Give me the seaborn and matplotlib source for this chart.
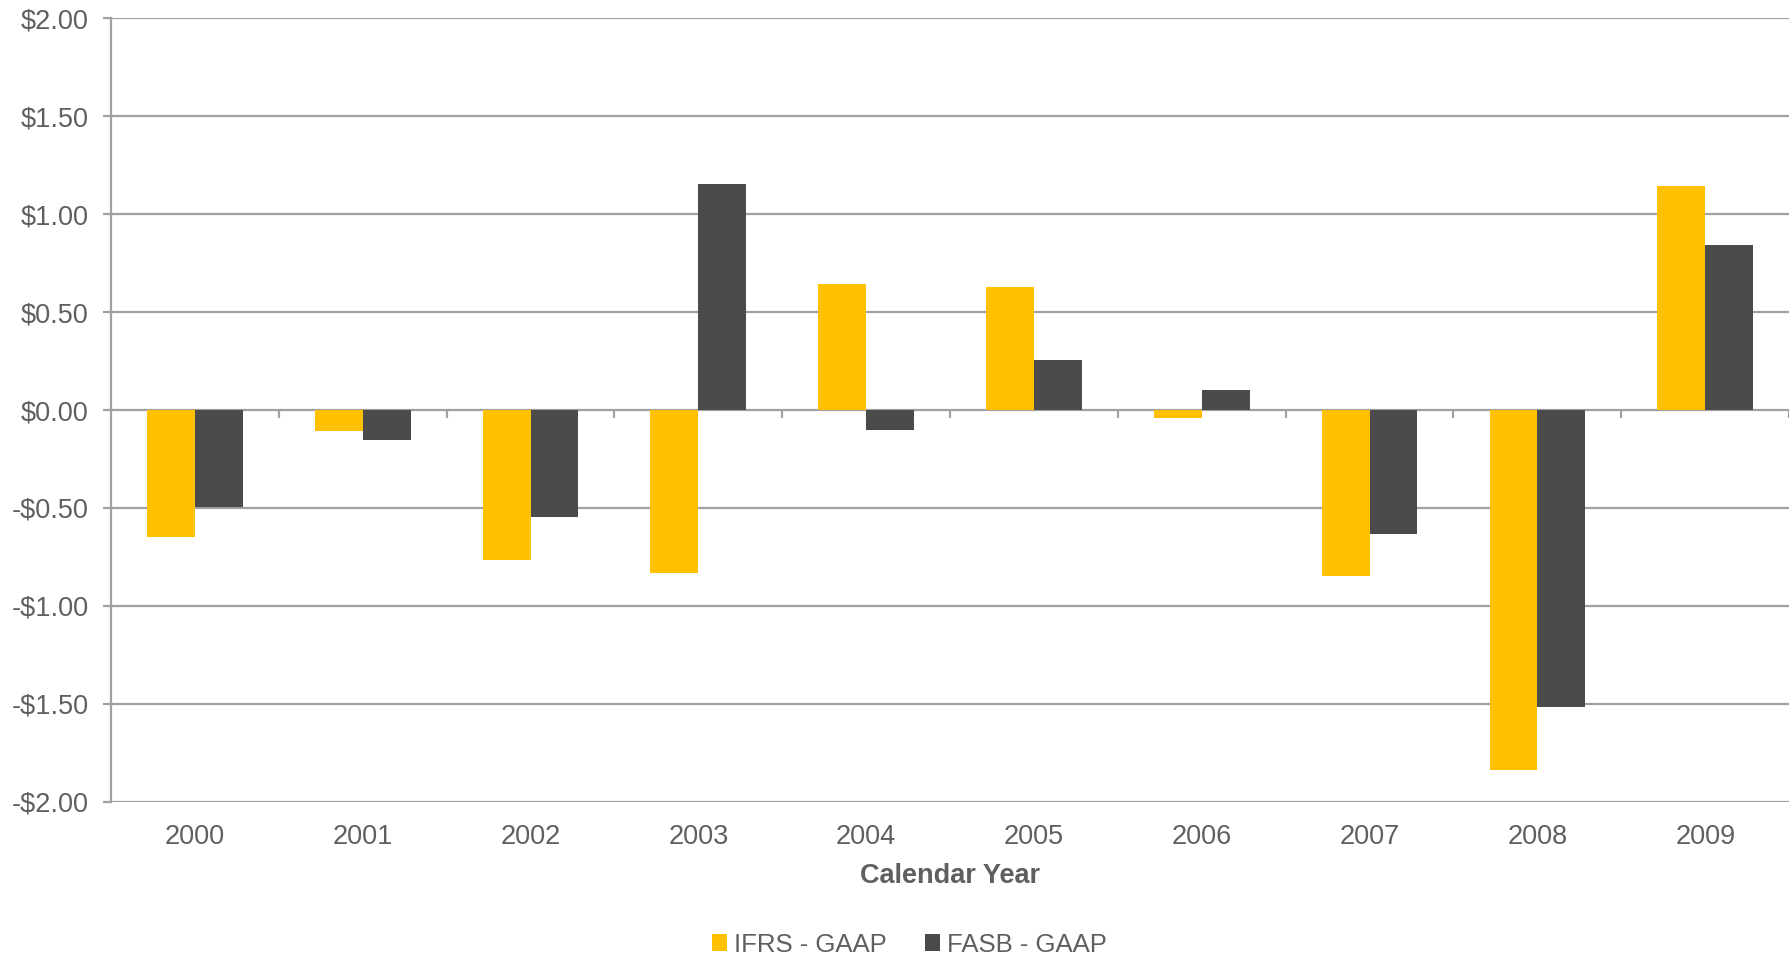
import matplotlib
matplotlib.use("Agg")
import matplotlib.pyplot as plt
import seaborn as sns
import pandas as pd
from matplotlib.patches import Patch

years = ["2000", "2001", "2002", "2003", "2004", "2005", "2006", "2007", "2008", "2009"]
ifrs_gaap = [-0.65, -0.105, -0.765, -0.83, 0.644, 0.626, -0.042, -0.845, -1.838, 1.144]
fasb_gaap = [-0.497, -0.151, -0.548, 1.154, -0.102, 0.255, 0.104, -0.633, -1.515, 0.842]
series_names = ["IFRS - GAAP", "FASB - GAAP"]
ytick_values = [-2.0, -1.5, -1.0, -0.5, 0.0, 0.5, 1.0, 1.5, 2.0]
ytick_labels = ["-$2.00", "-$1.50", "-$1.00", "-$0.50", "$0.00", "$0.50", "$1.00", "$1.50", "$2.00"]
x_title = "Calendar Year"

colors = ["#FFC000", "#4B4B4B"]
grid_c = "#A0A0A0"
text_c = "#5F5F5F"
fs = 19.5

df = pd.DataFrame({
    "year": years * 2,
    "value": ifrs_gaap + fasb_gaap,
    "series": [series_names[0]] * len(years) + [series_names[1]] * len(years),
})

sns.set_theme(style="white")
plt.rcParams["font.family"] = ["Liberation Sans", "DejaVu Sans"]

fig = plt.figure(figsize=(17.9, 9.58), dpi=100)
ax = fig.add_axes([0.062, 0.163, 0.9375, 0.818])

sns.barplot(data=df, x="year", y="value", hue="series", palette=colors,
            width=0.57, gap=0, dodge=True, ax=ax, legend=False,
            edgecolor="none", linewidth=0, saturation=1)

ax.set_ylim(-2, 2)
ax.set_xlim(-0.5, len(years) - 0.5)
ax.set_yticks(ytick_values)
ax.set_yticklabels(ytick_labels)
ax.yaxis.grid(True, color=grid_c, linewidth=1.6)
ax.set_axisbelow(True)
for side in ["top", "right"]:
    ax.spines[side].set_visible(False)
ax.spines["bottom"].set_visible(False)
ax.spines["left"].set_color(grid_c)
ax.spines["left"].set_linewidth(1.6)
ax.tick_params(axis="y", which="both", left=True, length=6, width=1.6,
               color=grid_c, labelsize=fs, labelcolor=text_c, pad=10)
ax.tick_params(axis="x", bottom=False, length=0, labelsize=fs,
               labelcolor=text_c, pad=16)
ax.set_ylabel("")
ax.set_xlabel(x_title, fontsize=fs, fontweight="bold", color=text_c, labelpad=9)

# zero axis line with category separator ticks
sec = ax.secondary_xaxis(0.5)
sec.spines["bottom"].set_color(grid_c)
sec.spines["bottom"].set_linewidth(1.6)
sec.spines["top"].set_visible(False)
sec.set_xticks([i + 0.5 for i in range(len(years))])
sec.set_xticklabels([""] * len(years))
sec.xaxis.set_ticks_position("bottom")
sec.tick_params(axis="x", direction="out", length=6, width=1.6, color=grid_c,
                labelbottom=False, labeltop=False)

handles = [Patch(facecolor=c, edgecolor="none") for c in colors]
fig.legend(handles, series_names, loc="center", bbox_to_anchor=(0.508, 0.014),
           ncol=2, frameon=False, fontsize=18.5, labelcolor=text_c,
           handlelength=0.6, handleheight=0.6, handletextpad=0.25,
           columnspacing=1.5)

fig.savefig("out.png", dpi=100)
